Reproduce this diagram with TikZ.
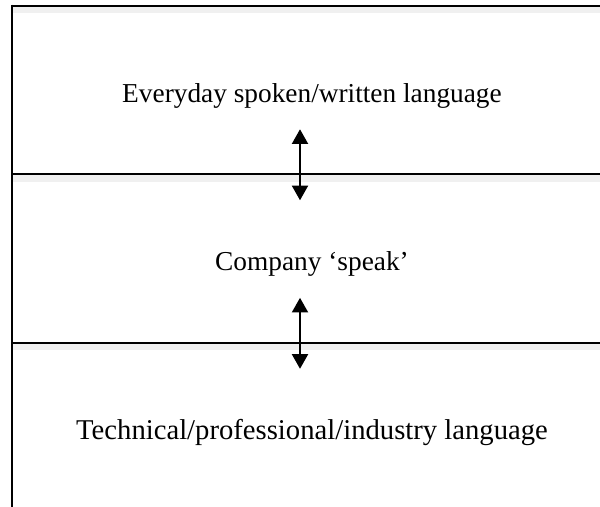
\documentclass[tikz,border=0pt]{standalone}
\usepackage{fontspec}
\setmainfont{Liberation Serif}
\usetikzlibrary{arrows.meta,positioning}

\begin{document}
\begin{tikzpicture}[
    x=0.75pt, y=-0.75pt,
    node distance=0pt,
    layer/.style={rectangle, minimum width=450pt, minimum height=126pt, inner sep=0pt, text height=23pt, text depth=4.5pt, align=center, font=\fontsize{20.5}{24}\selectfont},
    rule/.style={line width=1.5pt},
    frame/.style={rule, preaction={draw=black!6, line width=5pt, transform canvas={yshift=-3pt}}},
    arrow/.style={{Triangle[width=12pt,length=11pt]}-{Triangle[width=12pt,length=11pt]}, line width=1.5pt}
]
\useasboundingbox (0,0) rectangle (600,507);

\node[layer] (everyday) at (312,90) {Everyday spoken/written language};
\node[layer, below=of everyday] (company) {Company `speak'};
\node[layer, font=\fontsize{21.5}{24}\selectfont, below=of company] (technical) {Technical/professional/industry language};

% top edge and dividers, then the left edge (open to the right and below)
\draw[frame] (everyday.north west) -- (everyday.north east);
\draw[frame] (everyday.south west) -- (everyday.south east);
\draw[frame] (company.south west) -- (company.south east);
\draw[rule] ([yshift=0.75pt]everyday.north west) -- ([yshift=-30pt]technical.south west);

\draw[arrow] ([xshift=-9pt,yshift=33.75pt]everyday.south) -- ([xshift=-9pt,yshift=-19.5pt]company.north);
\draw[arrow] ([xshift=-9pt,yshift=33.75pt]company.south) -- ([xshift=-9pt,yshift=-19.5pt]technical.north);

\end{tikzpicture}
\end{document}
